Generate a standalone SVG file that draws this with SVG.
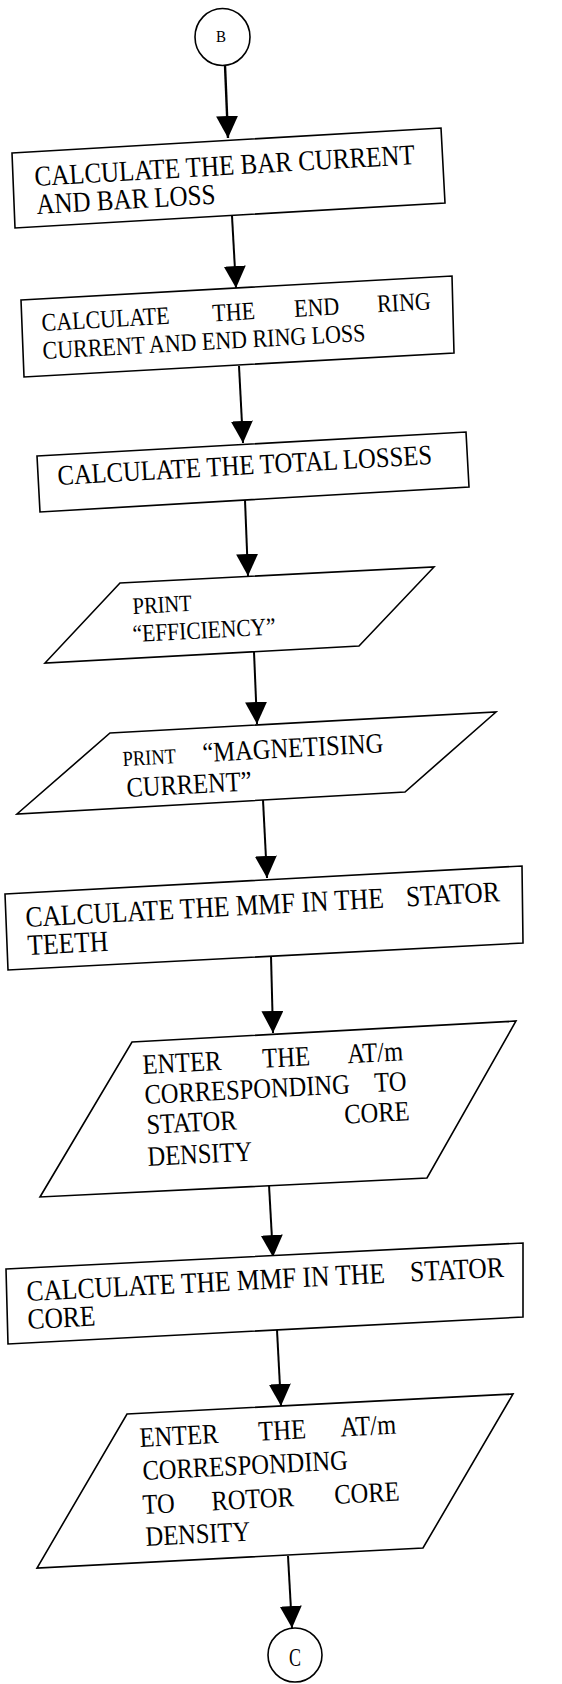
<svg xmlns="http://www.w3.org/2000/svg" width="562" height="1684" viewBox="0 0 562 1684">
<style>
.shape{fill:#fff;stroke:#000;stroke-width:1.6}
.conn{stroke:#000;stroke-width:2;fill:none}
.t{font-family:"Liberation Serif","Times New Roman",serif;fill:#000}
</style>
<defs>
<marker id="ah" markerUnits="userSpaceOnUse" markerWidth="22" markerHeight="22" viewBox="0 0 20 20" refX="20" refY="10" orient="auto">
<path d="M0,0 L20,10 L0,20 z" fill="#000"/>
</marker>
</defs>
<rect width="562" height="1684" fill="#fff"/>
<g id="connectors">
<line class="conn" x1="225" y1="65" x2="228" y2="138" marker-end="url(#ah)" style="stroke-width:2.4"/>
<line class="conn" x1="232" y1="216" x2="236" y2="288" marker-end="url(#ah)"/>
<line class="conn" x1="239" y1="366" x2="243" y2="443" marker-end="url(#ah)"/>
<line class="conn" x1="245" y1="500" x2="248" y2="576" marker-end="url(#ah)"/>
<line class="conn" x1="254" y1="652" x2="257" y2="724" marker-end="url(#ah)"/>
<line class="conn" x1="263" y1="800" x2="267" y2="878" marker-end="url(#ah)"/>
<line class="conn" x1="271" y1="956" x2="273" y2="1033" marker-end="url(#ah)"/>
<line class="conn" x1="269" y1="1185" x2="273" y2="1257" marker-end="url(#ah)"/>
<line class="conn" x1="277" y1="1330" x2="281" y2="1406" marker-end="url(#ah)"/>
<line class="conn" x1="288" y1="1556" x2="292" y2="1628" marker-end="url(#ah)"/>
</g>
<g id="start-B">
<ellipse class="shape" cx="222.5" cy="37" rx="27.5" ry="28.5"/>
<text class="t" font-size="15" text-anchor="middle" transform="translate(221 42) scale(1 1.15)">B</text>
</g>
<g id="bar-loss">
<polygon class="shape" points="12,153 441,128 445,203 15,228"/>
<text class="t" font-size="25" transform="translate(35 186) rotate(-3.3) scale(1 1.15)">CALCULATE THE BAR CURRENT</text>
<text class="t" font-size="25" transform="translate(37 214) rotate(-3.3) scale(1 1.15)">AND BAR LOSS</text>
</g>
<g id="end-ring-loss">
<polygon class="shape" points="21,300 452,276 454,353 24,377"/>
<text class="t" font-size="22" transform="translate(42 331) rotate(-3.2) scale(1 1.15)"><tspan x="0">CALCULATE</tspan><tspan x="171">THE</tspan><tspan x="253">END</tspan><tspan x="336">RING</tspan></text>
<text class="t" font-size="22" transform="translate(43 359) rotate(-3.2) scale(1 1.15)">CURRENT AND END RING LOSS</text>
</g>
<g id="total-losses">
<polygon class="shape" points="37,456 466,432 469,487 40,512"/>
<text class="t" font-size="24.6" transform="translate(58 485) rotate(-3.2) scale(1 1.15)">CALCULATE THE TOTAL LOSSES</text>
</g>
<g id="print-efficiency">
<polygon class="shape" points="120,583 434,567 359,646 45,663"/>
<text class="t" font-size="20.5" transform="translate(133 614) rotate(-3) scale(1 1.15)">PRINT</text>
<text class="t" font-size="21.5" transform="translate(133 642) rotate(-3) scale(1 1.15)">“EFFICIENCY”</text>
</g>
<g id="print-magnetising">
<polygon class="shape" points="110,733 496,712 405,792 17,814"/>
<text class="t" font-size="18.5" transform="translate(123 766) rotate(-3.1) scale(1 1.15)">PRINT</text>
<text class="t" font-size="24.5" transform="translate(203 762) rotate(-3.1) scale(1 1.15)">“MAGNETISING</text>
<text class="t" font-size="24.5" transform="translate(127 797) rotate(-3.1) scale(1 1.15)">CURRENT”</text>
</g>
<g id="mmf-stator-teeth">
<polygon class="shape" points="5,894 522,866 523,943 8,970"/>
<text class="t" font-size="25.5" transform="translate(26 927) rotate(-3.1) scale(1 1.15)"><tspan x="0">CALCULATE THE MMF IN THE</tspan><tspan x="381">STATOR</tspan></text>
<text class="t" font-size="25.5" transform="translate(28 955) rotate(-3.1) scale(1 1.15)">TEETH</text>
</g>
<g id="enter-stator-core">
<polygon class="shape" points="132,1042 516,1021 427,1178 40,1197"/>
<text class="t" font-size="24.5" transform="translate(143 1074) rotate(-3) scale(1 1.15)"><tspan x="0">ENTER</tspan><tspan x="120">THE</tspan><tspan x="205">AT/m</tspan></text>
<text class="t" font-size="24.5" transform="translate(145 1104) rotate(-3) scale(1 1.15)"><tspan x="0">CORRESPONDING</tspan><tspan x="230">TO</tspan></text>
<text class="t" font-size="24.5" transform="translate(147 1134) rotate(-3) scale(1 1.15)"><tspan x="0">STATOR</tspan><tspan x="198">CORE</tspan></text>
<text class="t" font-size="24.5" transform="translate(148 1166) rotate(-3) scale(1 1.15)">DENSITY</text>
</g>
<g id="mmf-stator-core">
<polygon class="shape" points="6,1269 523,1243 523,1317 8,1344"/>
<text class="t" font-size="25.5" transform="translate(27 1301) rotate(-2.9) scale(1 1.15)"><tspan x="0">CALCULATE THE MMF IN THE</tspan><tspan x="384">STATOR</tspan></text>
<text class="t" font-size="25.5" transform="translate(28 1329) rotate(-2.9) scale(1 1.15)">CORE</text>
</g>
<g id="enter-rotor-core">
<polygon class="shape" points="127,1414 513,1394 423,1548 37,1568"/>
<text class="t" font-size="24.5" transform="translate(140 1447) rotate(-3) scale(1 1.15)"><tspan x="0">ENTER</tspan><tspan x="119">THE</tspan><tspan x="201">AT/m</tspan></text>
<text class="t" font-size="24.5" transform="translate(143 1480) rotate(-3) scale(1 1.15)">CORRESPONDING</text>
<text class="t" font-size="24.5" transform="translate(143 1514) rotate(-3) scale(1 1.15)"><tspan x="0">TO</tspan><tspan x="69">ROTOR</tspan><tspan x="192">CORE</tspan></text>
<text class="t" font-size="24.5" transform="translate(146 1546) rotate(-3) scale(1 1.15)">DENSITY</text>
</g>
<g id="end-C">
<circle class="shape" cx="295" cy="1655" r="27"/>
<text class="t" font-size="20" text-anchor="middle" transform="translate(295 1666) scale(0.9 1.3)">C</text>
</g>
</svg>
